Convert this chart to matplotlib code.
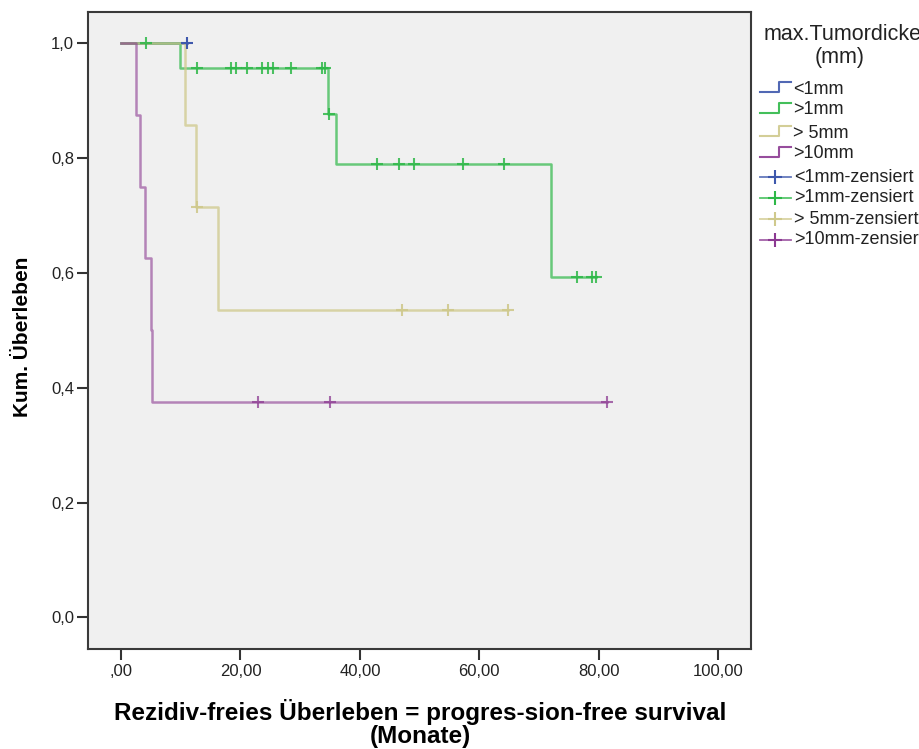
import numpy as np
import matplotlib.pyplot as plt

plt.rcParams['font.family'] = ['Liberation Sans', 'DejaVu Sans']

# follow-up times (months) and event flags (1 = relapse, 0 = censored)
groups = ['<1mm', '>1mm', '> 5mm', '>10mm']
colors = ['#3e58ac', '#2eb848', '#cfc98c', '#8c3a92']
alphas = [0.9, 0.7, 0.75, 0.6]

t_lt1 = [11.0]
e_lt1 = [0]

t_gt1 = [4.1, 9.8, 12.8, 18.5, 19.3, 21.1, 23.6, 24.6, 25.4, 28.5, 33.7, 34.1,
         34.6, 34.8, 36.0, 42.9, 46.6, 49.0, 57.3, 64.2, 72.0, 76.4, 78.8, 79.5]
e_gt1 = [0, 1, 0, 0, 0, 0, 0, 0, 0, 0, 0, 0,
         1, 0, 1, 0, 0, 0, 0, 0, 1, 0, 0, 0]

t_gt5 = [10.7, 12.6, 12.8, 16.2, 47.0, 54.8, 64.8]
e_gt5 = [1, 1, 0, 1, 0, 0, 0]

t_gt10 = [2.5, 3.1, 4.0, 5.0, 5.15, 22.9, 35.0, 81.4]
e_gt10 = [1, 1, 1, 1, 1, 0, 0, 0]

times = [t_lt1, t_gt1, t_gt5, t_gt10]
events = [e_lt1, e_gt1, e_gt5, e_gt10]


def kaplan_meier(t, e):
    t = np.asarray(t, float)
    e = np.asarray(e, int)
    order = np.argsort(t, kind='stable')
    t, e = t[order], e[order]
    at_risk = len(t)
    s = 1.0
    xs, ys = [0.0], [1.0]
    cx, cy = [], []
    for ti, ei in zip(t, e):
        if ei:
            s *= (at_risk - 1) / at_risk
            xs.append(ti)
            ys.append(s)
        else:
            cx.append(ti)
            cy.append(s)
        at_risk -= 1
    xs.append(t.max())
    ys.append(s)
    return xs, ys, cx, cy


W, H = 920, 749
fig = plt.figure(figsize=(W / 100, H / 100), dpi=100)
ax = fig.add_axes([88 / W, 1 - 649 / H, 663 / W, 637 / H])
ax.set_facecolor('#f0f0f0')

for t, e, c, a in zip(times, events, colors, alphas):
    xs, ys, cx, cy = kaplan_meier(t, e)
    ax.step(xs, ys, where='post', color=c, lw=1.8, alpha=a, zorder=3)
    ax.plot(cx, cy, '+', color=c, ms=9, mew=1.5, alpha=min(1, a + 0.15), zorder=4)

ax.set_xlim(-5.53, 105.5)
ax.set_ylim(-0.055, 1.054)
ax.set_xticks(np.arange(0, 101, 20))
ax.set_xticklabels([',00', '20,00', '40,00', '60,00', '80,00', '100,00'])
ax.set_yticks(np.arange(0, 1.01, 0.2))
ax.set_yticklabels(['0,0', '0,2', '0,4', '0,6', '0,8', '1,0'])
ax.tick_params(direction='out', length=8, width=1.5, color='#333333',
               labelsize=12, labelcolor='#222222', pad=3)
ax.tick_params(axis='y', pad=2)
for sp in ax.spines.values():
    sp.set_color('#3a3a3a')
    sp.set_linewidth(1.5)

fig.text(420 / W, 1 - 712 / H, 'Rezidiv-freies Überleben = progres-sion-free survival',
         fontsize=17.5, fontweight='bold', ha='center', va='center')
fig.text(420 / W, 1 - 736 / H, '(Monate)',
         fontsize=17.5, fontweight='bold', ha='center', va='center')
fig.text(23 / W, 1 - 337 / H, 'Kum. Überleben', fontsize=15, fontweight='bold',
         rotation=90, ha='center', va='center')

# legend drawn in pixel space on the right
lg = fig.add_axes([0, 0, 1, 1], facecolor='none')
lg.set_xlim(0, W)
lg.set_ylim(H, 0)
lg.axis('off')
lg.text(764, 35, 'max.Tumordicke', fontsize=15.5, color='#222222', va='center', ha='left')
lg.text(840, 57, '(mm)', fontsize=15.5, color='#222222', va='center', ha='center')

row_y = [89, 110, 133, 154, 177, 198, 219, 240]
for i, (g, c) in enumerate(zip(groups, colors)):
    y = row_y[i]
    lg.plot([760, 779, 779, 791], [y + 3, y + 3, y - 7, y - 7], color=c, lw=1.5, alpha=0.9)
    lg.text(793, y, g, fontsize=13, color='#222222', va='center', ha='left')
for i, (g, c) in enumerate(zip(groups, colors)):
    y = row_y[4 + i]
    lg.plot([760, 791], [y, y], color=c, lw=1.3, alpha=0.8)
    lg.plot([775], [y], '+', color=c, ms=10, mew=1.5)
    lg.text(794, y, g + '-zensiert', fontsize=13, color='#222222', va='center', ha='left')

fig.savefig('out.png', dpi=100)
